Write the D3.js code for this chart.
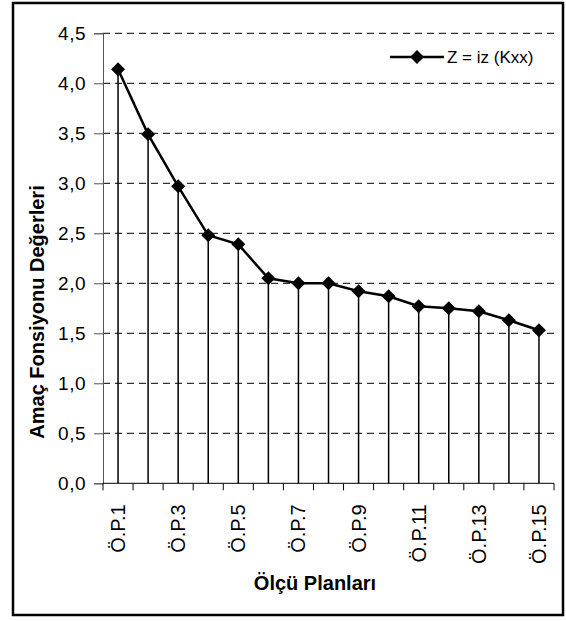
<!DOCTYPE html>
<html>
<head>
    <meta charset="utf-8">
    <style>
        body { margin: 0; background: #fff; }
        svg { display: block; font-family: 'Liberation Sans', Arial, sans-serif; }
    </style>
</head>
<body>
<svg width="566" height="621"></svg>

<script src="https://d3js.org/d3.v7.min.js"></script>
<script>
    // data
    let categories = d3.range(1, 16).map(function(i) { return "Ö.P." + i })
    let values = [4.14, 3.49, 2.97, 2.48, 2.39, 2.05, 2.00, 2.00, 1.92, 1.87, 1.77, 1.75, 1.72, 1.63, 1.53]
    let yTicks = [0, 0.5, 1, 1.5, 2, 2.5, 3, 3.5, 4, 4.5]
    let seriesName = "Z = iz (Kxx)"

    let data = categories.map(function(c, i) { return { cat: c, value: values[i] } })

    let svg = d3.select("svg")
    let plot = { left: 103, right: 554, top: 33.3, bottom: 483.3 }

    // outer frame
    svg.append("rect")
        .attr("x", 13).attr("y", 3)
        .attr("width", 550).attr("height", 612)
        .attr("fill", "none")
        .attr("stroke", "#000")
        .attr("stroke-width", 2.5)

    let x = d3.scaleBand()
        .domain(categories)
        .range([plot.left, plot.right])

    let y = d3.scaleLinear()
        .domain([0, 4.5])
        .range([plot.bottom, plot.top])

    let fmt = function(d) { return d3.format(".1f")(d).replace(".", ",") }

    // dashed gridlines
    svg.append("g")
        .selectAll("line")
        .data(yTicks.filter(function(d) { return d > 0 }))
        .enter().append("line")
        .attr("x1", plot.left).attr("x2", plot.right)
        .attr("y1", function(d) { return y(d) })
        .attr("y2", function(d) { return y(d) })
        .attr("stroke", "#000")
        .attr("stroke-width", 1)
        .attr("stroke-dasharray", "7,5")

    // y axis
    let yAxis = svg.append("g")
        .attr("transform", `translate(${plot.left},0)`)
        .call(d3.axisLeft(y).tickValues(yTicks).tickFormat(fmt).tickSize(9).tickPadding(8))
    yAxis.select(".domain").attr("stroke", "#555")
    yAxis.selectAll(".tick line").attr("stroke", "#555")
    yAxis.selectAll("text")
        .attr("font-size", "19px")
        .attr("letter-spacing", "0.5px")
        .attr("font-family", "'Liberation Sans', Arial, sans-serif")
        .attr("fill", "#000")

    // x axis: ticks at band edges, labels on odd categories
    let edges = categories.map(function(c) { return x(c) }).concat([plot.right])
    svg.append("line")
        .attr("x1", plot.left).attr("x2", plot.right)
        .attr("y1", plot.bottom).attr("y2", plot.bottom)
        .attr("stroke", "#000")
    svg.append("g")
        .selectAll("line")
        .data(edges)
        .enter().append("line")
        .attr("x1", function(d) { return d }).attr("x2", function(d) { return d })
        .attr("y1", plot.bottom).attr("y2", plot.bottom + 7)
        .attr("stroke", "#000")

    svg.append("g")
        .selectAll("text")
        .data(categories.filter(function(c, i) { return i % 2 == 0 }))
        .enter().append("text")
        .attr("transform", function(d) {
            return `translate(${x(d) + x.bandwidth() / 2 + 7},${plot.bottom + 21}) rotate(-90)`
        })
        .attr("text-anchor", "end")
        .attr("font-size", "20px")
        .text(function(d) { return d })

    // drop lines
    svg.append("g")
        .selectAll("line")
        .data(data)
        .enter().append("line")
        .attr("x1", function(d) { return x(d.cat) + x.bandwidth() / 2 })
        .attr("x2", function(d) { return x(d.cat) + x.bandwidth() / 2 })
        .attr("y1", function(d) { return y(d.value) })
        .attr("y2", plot.bottom)
        .attr("stroke", "#000")
        .attr("stroke-width", 1.5)

    // series line
    let line = d3.line()
        .x(function(d) { return x(d.cat) + x.bandwidth() / 2 })
        .y(function(d) { return y(d.value) })

    svg.append("path")
        .datum(data)
        .attr("d", line)
        .attr("fill", "none")
        .attr("stroke", "#000")
        .attr("stroke-width", 2.5)

    let diamond = "M0,-7L7,0L0,7L-7,0Z"
    svg.append("g")
        .selectAll("path")
        .data(data)
        .enter().append("path")
        .attr("d", diamond)
        .attr("transform", function(d) {
            return `translate(${x(d.cat) + x.bandwidth() / 2},${y(d.value)})`
        })
        .attr("fill", "#000")

    // legend
    let lg = svg.append("g").attr("transform", "translate(390,57)")
    lg.append("line")
        .attr("x1", 0).attr("x2", 54)
        .attr("stroke", "#000").attr("stroke-width", 2.5)
    lg.append("path").attr("d", diamond).attr("transform", "translate(27,0)")
    lg.append("text")
        .attr("x", 57).attr("y", 6)
        .attr("font-size", "17px")
        .text(seriesName)

    // axis titles
    svg.append("text")
        .attr("transform", "translate(44,312) rotate(-90)")
        .attr("text-anchor", "middle")
        .attr("font-size", "20px")
        .attr("font-weight", "bold")
        .text("Amaç Fonsiyonu Değerleri")

    svg.append("text")
        .attr("x", 315).attr("y", 590)
        .attr("text-anchor", "middle")
        .attr("font-size", "20px")
        .attr("font-weight", "bold")
        .text("Ölçü Planları")
</script>
</body>
</html>
